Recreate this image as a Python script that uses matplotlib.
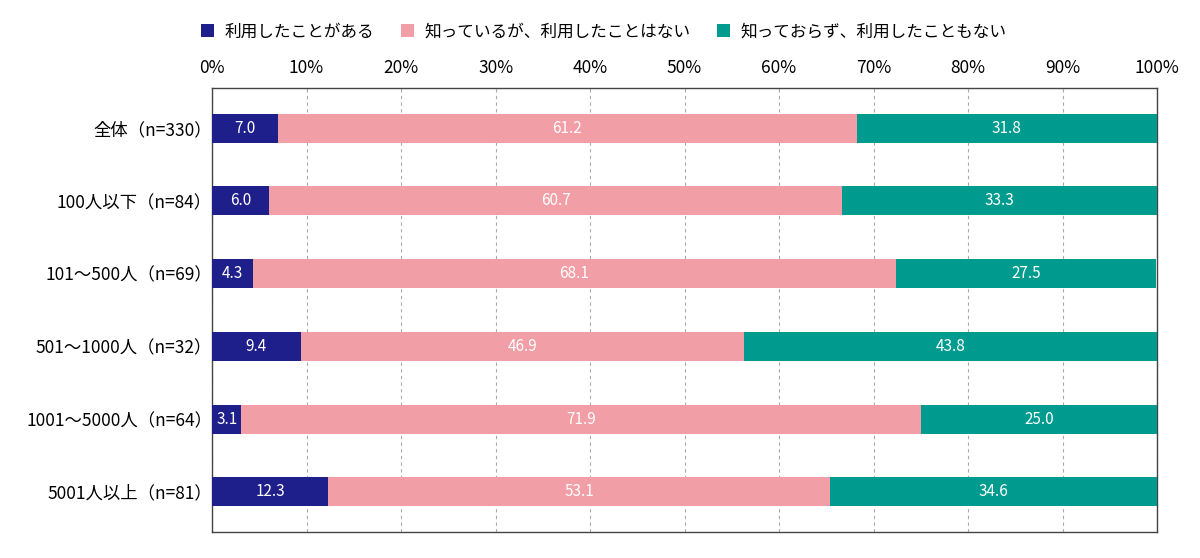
import matplotlib
matplotlib.use("Agg")
import matplotlib.pyplot as plt
import numpy as np

plt.rcParams['font.family'] = ['Noto Sans CJK JP', 'DejaVu Sans']

categories = ["全体（n=330）", "100人以下（n=84）", "101～500人（n=69）",
              "501～1000人（n=32）", "1001～5000人（n=64）", "5001人以上（n=81）"]
series_names = ["利用したことがある", "知っているが、利用したことはない", "知っておらず、利用したこともない"]
used = [7.0, 6.0, 4.3, 9.4, 3.1, 12.3]
known_not_used = [61.2, 60.7, 68.1, 46.9, 71.9, 53.1]
unknown = [31.8, 33.3, 27.5, 43.8, 25.0, 34.6]
colors = ["#1f1f8c", "#f29ea6", "#009b8f"]

fig = plt.figure(figsize=(12, 5.58), dpi=100)
ax = fig.add_axes([0.1767, 0.047, 0.7875, 0.795])

y = np.arange(len(categories))
left = np.zeros(len(categories))
for vals, name, col in zip([used, known_not_used, unknown], series_names, colors):
    vals = np.array(vals)
    ax.barh(y, vals, left=left, height=0.4, color=col, label=name, zorder=3)
    for yi, l, v in zip(y, left, vals):
        ax.text(l + v / 2, yi, f"{v:.1f}", ha='center', va='center',
                color='white', fontsize=11, zorder=4)
    left = left + vals

ax.set_xlim(0, 100)
ax.set_ylim(5.55, -0.55)
ax.set_yticks(y)
ax.set_yticklabels(categories, fontsize=12.5)
ax.set_xticks(np.arange(0, 101, 10))
ax.set_xticklabels([f"{t}%" for t in range(0, 101, 10)], fontsize=12.5)
ax.xaxis.tick_top()
ax.tick_params(axis='x', length=0, pad=8)
ax.tick_params(axis='y', length=0, pad=0)
ax.grid(axis='x', linestyle=(0, (3, 3)), color='#aaaaaa', linewidth=0.8, zorder=0)
for s in ax.spines.values():
    s.set_color('#444444')
    s.set_linewidth(1.0)

fig.legend(loc='upper center', bbox_to_anchor=(0.503, 0.985), ncol=3, frameon=False,
           fontsize=12, handlelength=0.8, handleheight=0.8, columnspacing=1.6,
           handletextpad=0.6)

fig.savefig("out.png", dpi=100)
